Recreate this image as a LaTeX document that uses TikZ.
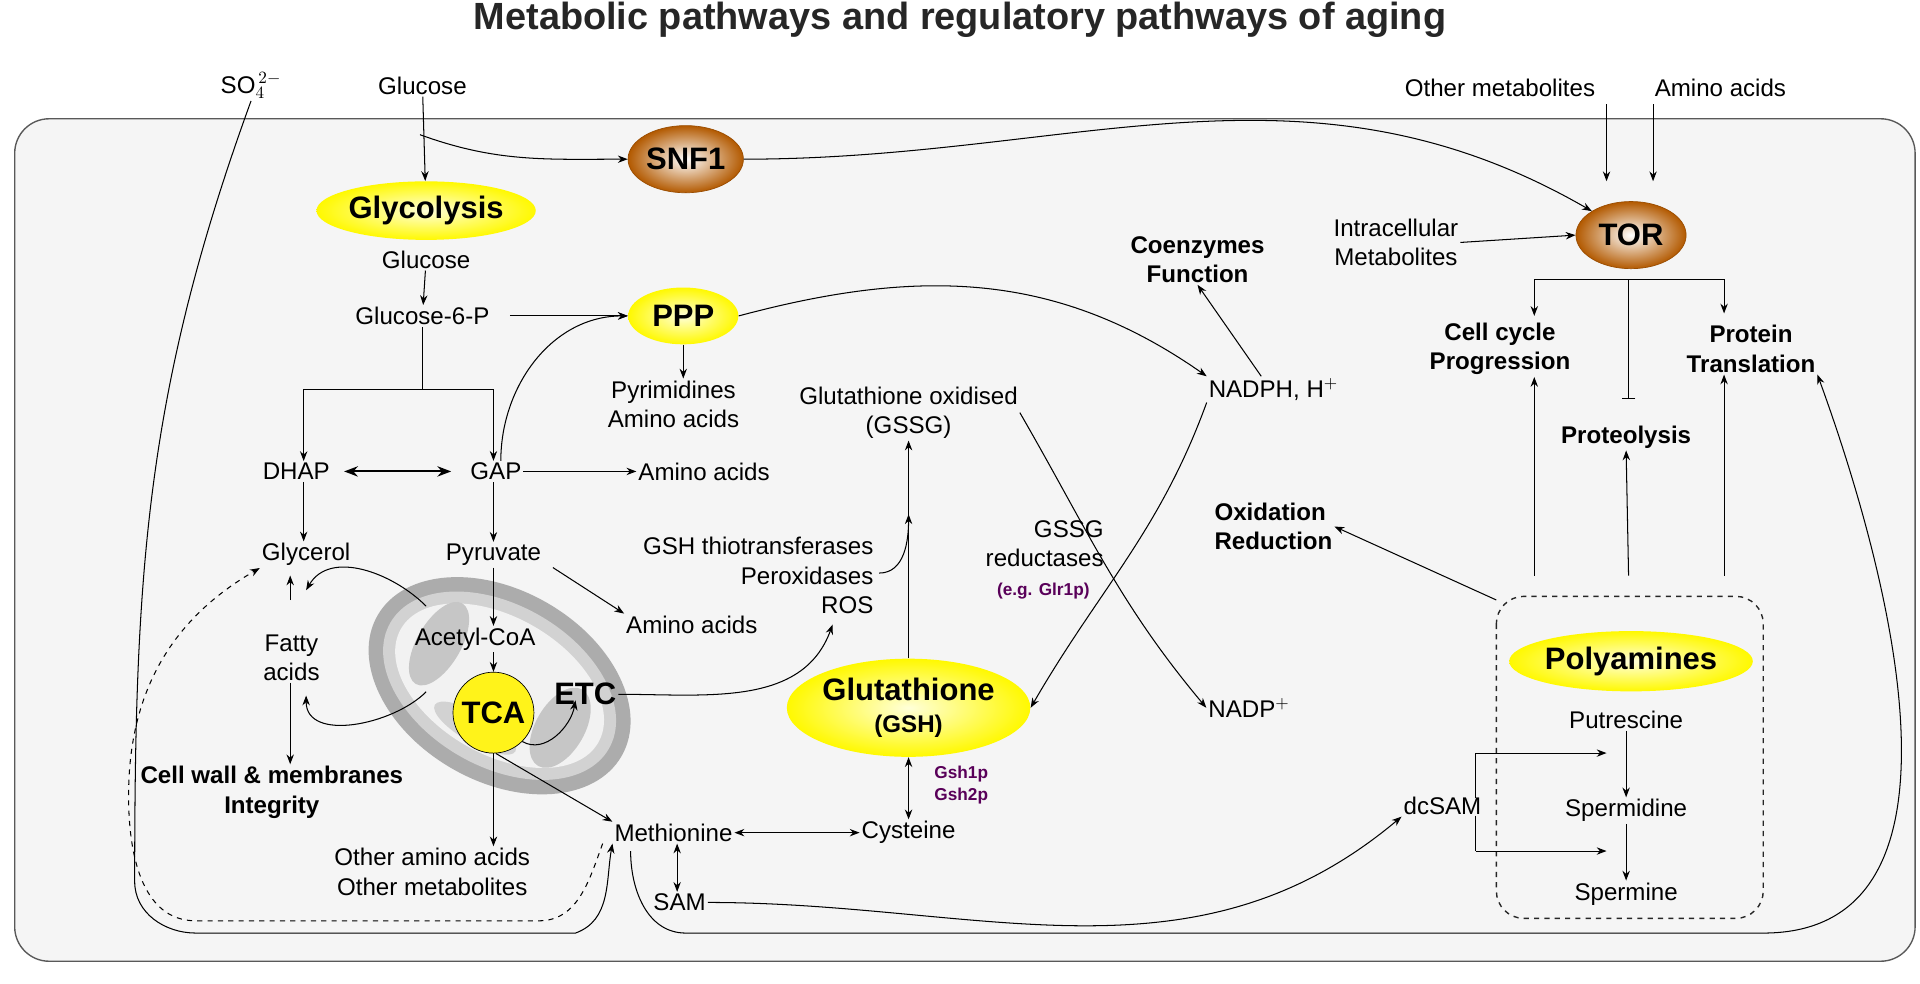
\documentclass[tikz,border=0pt]{standalone}
\usepackage{fontspec}
\setmainfont{Liberation Sans}
\usetikzlibrary{positioning,arrows.meta,shapes.geometric}
\tikzset{>=Stealth}
\colorlet{cellgray}{gray!8}
\colorlet{enzpurple}{violet!70!black}
\tikzset{
  lbl/.style={font=\fontsize{14}{17}\selectfont, align=center, inner sep=1pt},
  blbl/.style={font=\fontsize{14}{17}\selectfont\bfseries, align=center, inner sep=1pt},
  enz/.style={font=\fontsize{10}{13}\selectfont\bfseries, text=enzpurple, align=left, inner sep=1pt},
  yball/.style={ellipse, shading=radial, inner color=yellow!15!white, outer color=yellow!95!orange, font=\fontsize{18}{21}\selectfont\bfseries, align=center, inner sep=0pt},
  bball/.style={ellipse, shading=radial, inner color=white, outer color=orange!70!black, draw=orange!60!black, font=\fontsize{18}{21}\selectfont\bfseries, inner sep=0pt},
  arrow/.style={->, semithick},
  darrow/.style={<->, semithick}
}
\begin{document}
\begin{tikzpicture}[x=0.025cm, y=-0.025cm]
\useasboundingbox (0,0) rectangle (1568,803);

% title and cell
\node[font=\fontsize{22}{26}\selectfont\bfseries, text=black!85] (title) at (784,16) {Metabolic pathways and regulatory pathways of aging};
\draw[gray!70!black, thick, fill=cellgray, rounded corners=20] (12,97) rectangle (1564,785);

% mitochondrion
\begin{scope}[shift={(408,560)}, rotate=-30]
  \fill[gray!65] (0,0) ellipse (115 and 78);
  \fill[gray!35] (0,0) ellipse (103 and 66);
  \fill[gray!10] (0,0) ellipse (93 and 56);
  \fill[gray!45] (-60,-5) ellipse (18 and 38);
  \fill[gray!45] (60,5) ellipse (20 and 36);
  \fill[gray!35] (0,40) ellipse (38 and 12);
\end{scope}

% outside inputs
\node[lbl] (so4) at (205,70) {SO$_4^{\,2-}$};
\node[lbl] (glucoseIn) at (345,70) {Glucose};
\node[lbl] (othermet) at (1225,72) {Other metabolites};
\node[lbl] (aaTop) at (1405,72) {Amino acids};

% signalling
\node[bball, minimum width=67, minimum height=39] (snf) at (560,130) {SNF1};
\node[bball, minimum width=64, minimum height=39] (tor) at (1332,192) {TOR};
\node[lbl] (intra) at (1140,198) {Intracellular\\Metabolites};
\node[blbl] (cellcyc) at (1225,285) {Cell cycle\\Progression};
\node[blbl] (prot) at (1430,285) {Protein\\Translation};
\node[blbl] (proteo) at (1328,357) {Proteolysis};

% glycolysis
\node[yball, minimum width=113, minimum height=34] (glyc) at (348,172) {Glycolysis};
\node[lbl] (gluc) at (348,212) {Glucose};
\node[lbl] (g6p) at (345,258) {Glucose-6-P};
\node[yball, minimum width=64, minimum height=33] (ppp) at (558,258) {PPP};
\node[lbl] (pyrim) at (550,330) {Pyrimidines\\Amino acids};
\node[lbl] (dhap) at (242,385) {DHAP};
\node[lbl] (gap) at (405,385) {GAP};
\node[lbl] (aaGap) at (575,385) {Amino acids};
\node[lbl] (glycerol) at (250,453) {Glycerol};
\node[lbl] (pyruvate) at (403,453) {Pyruvate};
\node[lbl] (aaPyr) at (565,510) {Amino acids};
\node[lbl] (fatty) at (238,537) {Fatty\\acids};
\node[blbl] (cellwall) at (222,647) {Cell wall \& membranes\\Integrity};
\node[lbl] (acetyl) at (388,522) {Acetyl-CoA};
\node[circle, draw, fill=yellow!90, minimum size=47, inner sep=0, font=\fontsize{18}{21}\selectfont\bfseries] (tca) at (403,582) {TCA};
\node[font=\fontsize{18}{21}\selectfont\bfseries, inner sep=1pt] (etc) at (478,567) {ETC};
\node[lbl] (otherAA) at (353,712) {Other amino acids\\Other metabolites};

% glutathione
\node[lbl] (ros) at (715,470) [anchor=east, align=right] {GSH thiotransferases\\Peroxidases\\ROS};
\coordinate (rosEnd) at (718,468);
\node[lbl] (gssg) at (742,337) {Glutathione oxidised\\(GSSG)};
\node[yball, minimum width=124, minimum height=57] (gsh) at (742,578) {Glutathione\\[-2pt]{\fontsize{14}{16}\selectfont(GSH)}};
\node[enz] (gshp) at (785,641) {Gsh1p\\Gsh2p};
\node[lbl] (cys) at (742,680) {Cysteine};
\node[lbl] (meth) at (550,680) {Methionine};
\node[lbl] (sam) at (555,737) {SAM};
\node[lbl] (nadph) at (1040,318) {NADPH, H$^+$};
\node[lbl] (nadp) at (1020,578) {NADP$^+$};
\node[lbl, align=right, anchor=east] (gssgred) at (903,444) {GSSG\\reductases};
\node[enz] (glr) at (852,483) {(e.g. Glr1p)};
\node[blbl] (coenz) at (978,212) {Coenzymes\\Function};
\node[blbl, align=left] (oxred) at (1040,430) {Oxidation\\Reduction};

% polyamines
\draw[dashed, thick, gray!30!black, rounded corners=16] (1222,487) rectangle (1440,750);
\node[yball, minimum width=120, minimum height=35] (polyam) at (1332,540) {Polyamines};
\node[lbl] (putr) at (1328,588) {Putrescine};
\node[lbl] (spmd) at (1328,662) {Spermidine};
\node[lbl] (spm) at (1328,730) {Spermine};
\node[lbl] (dcsam) at (1178,658) {dcSAM};

% signalling arrows
\draw[arrow] (glucoseIn) -- (glyc);
\draw[arrow] (343,110) to[out=-20, in=180] (snf.west);
\draw[arrow] (snf.east) to[out=0, in=150] (tor.north west);
\draw[arrow] (1312,85) -- (1312,148);
\draw[arrow] (1350,85) -- (1350,148);
\draw[arrow] (intra.east) -- (tor.west);
\draw[semithick] (1253,228) -- (1408,228);
\draw[arrow] (1253,228) -- (1253,258);
\draw[arrow] (1408,228) -- (1408,256);
\draw[semithick, -{Bar[width=8pt]}] (1330,228) -- (1330,326);
\draw[arrow] (1253,470) -- (cellcyc.south -| 1253,0);
\draw[arrow] (1330,470) -- (proteo.south);
\draw[arrow] (1408,470) -- (prot.south -| 1408,0);

% glycolysis arrows
\draw[arrow] (gluc) -- (g6p);
\draw[semithick] (g6p.south) -- (345,318);
\draw[semithick] (248,318) -- (403,318);
\draw[arrow] (248,318) -- (dhap.north -| 248,0);
\draw[arrow] (403,318) -- (gap.north -| 403,0);
\draw[arrow] (g6p.east) ++(15,0) -- (ppp.west);
\draw[arrow] (gap.north) ++(4,0) to[out=90, in=180] (ppp.west);
\draw[arrow] (ppp.south) -- (pyrim.north -| ppp.south);
\draw[very thick, {Stealth[length=8pt]}-{Stealth[length=8pt]}] (dhap.east) ++(10,0) -- ([xshift=-10]gap.west);
\draw[arrow] (gap.east) -- (aaGap.west);
\draw[arrow] (dhap.south -| 248,0) -- (glycerol.north -| 248,0);
\draw[arrow] (gap.south -| 403,0) -- (pyruvate.north -| 403,0);
\draw[arrow] (pyruvate.south east) ++(8,0) -- (aaPyr.north west);
\draw[arrow] (pyruvate.south -| 403,0) -- (acetyl.north -| 403,0);
\draw[arrow] (acetyl.south -| 403,0) -- (tca.north);
\draw[arrow] (237,490) -- (237,470);
\draw[arrow] (fatty.south -| 237,0) -- (cellwall.north -| 237,0);
\draw[arrow] (348,495) to[out=135, in=60] (250,482);
\draw[arrow] (348,565) to[out=225, in=-90] (250,568);
\draw[arrow] (tca.south east) to[out=-30, in=-100] (470,572);
\draw[arrow] (tca.south) -- (otherAA.north -| 403,0);
\draw[arrow] (tca.south) ++(2,0) -- (meth.north west);
\draw[arrow] (etc.east) to[out=0, in=-110] (680,510);

% glutathione arrows
\draw[arrow] (rosEnd) to[out=0, in=-90] (742,420);
\draw[arrow] (gsh.north) -- (gssg.south);
\draw[darrow] (gsh.south) -- (cys.north);
\draw[darrow] (meth.east) -- (cys.west);
\draw[darrow] (meth.south -| 553,0) -- (sam.north -| 553,0);
\draw[arrow] (ppp.east) to[out=15, in=145] (nadph.north west);
\draw[arrow] (nadph.north) ++(-10,0) -- (coenz.south);
\draw[arrow] (nadph.south west) to[out=-110, in=60] (gsh.east);
\draw[arrow] (gssg.east) to[out=-60, in=130] (nadp.west);
\draw[arrow] (1222,490) -- (oxred.east);

% polyamine arrows
\draw[arrow] (putr.south) -- (spmd.north);
\draw[arrow] (spmd.south) -- (spm.north);
\draw[semithick] (1205,652) -- (1205,615);
\draw[arrow] (1205,615) -- (1312,615);
\draw[semithick] (1205,666) -- (1205,695);
\draw[arrow] (1205,695) -- (1312,695);
\draw[arrow] (sam.east) to[out=0, in=-140] (dcsam.south west);

% long loops
\draw[arrow] (515,695) to[out=-90, in=180] (560,762) -- (1440,762) to[out=0, in=-70] (prot.south east);
\draw[arrow] (so4.south) to[out=-110, in=90] (110,720) to[out=-90, in=180] (160,762) -- (470,762) to[out=20, in=-100] (meth.south west);
\draw[arrow, dashed] (meth.south west) ++(-8,0) to[out=-110, in=0] (440,752) -- (160,752) to[out=180, in=-90] (105,650) to[out=90, in=-150] (glycerol.south west);
\end{tikzpicture}
\end{document}
